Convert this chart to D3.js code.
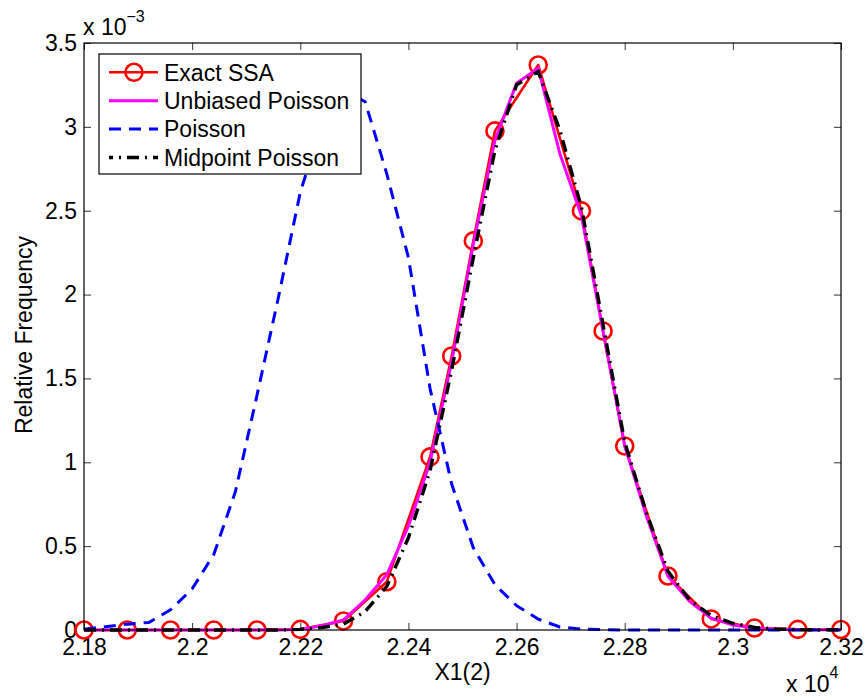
<!DOCTYPE html>
<html>
<head>
<meta charset="utf-8">
<script src="https://cdn.jsdelivr.net/npm/d3@7"></script>
<style>
  html, body { margin: 0; padding: 0; background: #fff; }
  svg { display: block; font-family: "Liberation Sans", Arial, Helvetica, sans-serif; }
</style>
</head>
<body>
<svg id="chart" width="868" height="700"></svg>
<script>
// Exact SSA histogram (marker positions), relative frequency in units of 1e-3
const ssaX = [21800, 21880, 21960, 22040, 22120, 22200, 22280, 22360, 22440, 22480, 22520,
              22560, 22640, 22720, 22760, 22800, 22880, 22960, 23040, 23120, 23200];
const ssaFreq = [0, 0, 0, 0, 0, 0.004, 0.054, 0.288, 1.032, 1.634, 2.32,
                 2.976, 3.369, 2.499, 1.783, 1.097, 0.322, 0.066, 0.012, 0.004, 0.003];

// Bin centres shared by the tau-leaping estimates
const binX = [21800, 21840, 21880, 21920, 21960, 22000, 22040, 22080, 22120, 22160,
              22200, 22240, 22280, 22320, 22360, 22400, 22440, 22480, 22520, 22560,
              22600, 22640, 22680, 22720, 22760, 22800, 22840, 22880, 22920, 22960,
              23000, 23040, 23080, 23120, 23160, 23200];
const unbiasedFreq = [0, 0, 0, 0, 0, 0, 0, 0, 0, 0,
                      0.004, 0.025, 0.06, 0.18, 0.33, 0.62, 1.0, 1.6, 2.3, 2.92,
                      3.26, 3.35, 2.84, 2.47, 1.78, 1.1, 0.68, 0.32, 0.17, 0.07,
                      0.03, 0.012, 0.005, 0.002, 0.001, 0.001];
const poissonFreq = [0.004, 0.02, 0.035, 0.045, 0.12, 0.245, 0.45, 0.825, 1.4, 1.99,
                     2.61, 3.02, 3.22, 3.15, 2.72, 2.22, 1.44, 0.87, 0.49, 0.27,
                     0.145, 0.065, 0.018, 0.006, 0.002, 0, 0, 0, 0, 0,
                     0, 0, 0, 0, 0, 0];
const midpointFreq = [0, 0, 0, 0, 0, 0, 0, 0, 0, 0,
                      0.004, 0.015, 0.035, 0.11, 0.26, 0.55, 0.95, 1.55, 2.22, 2.86,
                      3.25, 3.33, 2.98, 2.52, 1.82, 1.12, 0.7, 0.35, 0.18, 0.085,
                      0.04, 0.015, 0.006, 0.002, 0.001, 0.001];

// Axis ticks and labels
const xTicks = [21800, 22000, 22200, 22400, 22600, 22800, 23000, 23200];
const xTickLabels = ["2.18", "2.2", "2.22", "2.24", "2.26", "2.28", "2.3", "2.32"];
const yTicks = [0, 0.5, 1, 1.5, 2, 2.5, 3, 3.5];
const yTickLabels = ["0", "0.5", "1", "1.5", "2", "2.5", "3", "3.5"];

const seriesNames = ["Exact SSA", "Unbiased Poisson", "Poisson", "Midpoint Poisson"];

const svg = d3.select("#chart");
const plotLeft = 84, plotRight = 841, plotTop = 43, plotBottom = 630;
const fontSize = 23;

const x = d3.scaleLinear().domain([21800, 23200]).range([plotLeft, plotRight]);
const y = d3.scaleLinear().domain([0, 3.5]).range([plotBottom, plotTop]);

// Axes: inward ticks on all four sides
const tickLen = 7;
const gx = svg.append("g").attr("transform", `translate(0,${plotBottom})`)
  .call(d3.axisBottom(x).tickValues(xTicks).tickFormat((d, i) => xTickLabels[i])
    .tickSizeInner(-tickLen).tickSizeOuter(0).tickPadding(9));
const gy = svg.append("g").attr("transform", `translate(${plotLeft},0)`)
  .call(d3.axisLeft(y).tickValues(yTicks).tickFormat((d, i) => yTickLabels[i])
    .tickSizeInner(-tickLen).tickSizeOuter(0).tickPadding(7));
const gxt = svg.append("g").attr("transform", `translate(0,${plotTop})`)
  .call(d3.axisTop(x).tickValues(xTicks).tickFormat("").tickSizeInner(-tickLen).tickSizeOuter(0));
const gyr = svg.append("g").attr("transform", `translate(${plotRight},0)`)
  .call(d3.axisRight(y).tickValues(yTicks).tickFormat("").tickSizeInner(-tickLen).tickSizeOuter(0));

[gx, gy, gxt, gyr].forEach(g => {
  g.select(".domain").remove();
  g.selectAll(".tick line").attr("stroke", "#333").attr("stroke-width", 1);
  g.selectAll(".tick text").attr("fill", "#000")
    .style("font-size", fontSize + "px")
    .style("font-family", '"Liberation Sans", Arial, sans-serif');
});

// Series lines
const line = d3.line().x(d => x(d[0])).y(d => y(d[1]));
const zip = (xs, ys) => xs.map((v, i) => [v, ys[i]]);

const plot = svg.append("g");

plot.append("path").datum(zip(ssaX, ssaFreq)).attr("d", line)
  .attr("fill", "none").attr("stroke", "#ff0000").attr("stroke-width", 2.6)
  .attr("stroke-linejoin", "round");
plot.append("g").selectAll("circle").data(zip(ssaX, ssaFreq)).join("circle")
  .attr("cx", d => x(d[0])).attr("cy", d => y(d[1])).attr("r", 8.5)
  .attr("fill", "none").attr("stroke", "#ff0000").attr("stroke-width", 2.6);

plot.append("path").datum(zip(binX, unbiasedFreq)).attr("d", line)
  .attr("fill", "none").attr("stroke", "#ff00ff").attr("stroke-width", 3);

plot.append("path").datum(zip(binX, poissonFreq)).attr("d", line)
  .attr("fill", "none").attr("stroke", "#0000ff").attr("stroke-width", 3)
  .attr("stroke-dasharray", "12,8");

plot.append("path").datum(zip(binX, midpointFreq)).attr("d", line)
  .attr("fill", "none").attr("stroke", "#000000").attr("stroke-width", 3.4)
  .attr("stroke-dasharray", "12,6,2,6");

// Axes box
svg.append("rect").attr("x", plotLeft).attr("y", plotTop)
  .attr("width", plotRight - plotLeft).attr("height", plotBottom - plotTop)
  .attr("fill", "none").attr("stroke", "#000").attr("stroke-width", 1.2);

// Axis labels
svg.append("text").attr("x", (plotLeft + plotRight) / 2).attr("y", 680)
  .attr("text-anchor", "middle").style("font-size", fontSize + "px").text("X1(2)");
svg.append("text").attr("transform", "translate(32,335) rotate(-90)")
  .attr("text-anchor", "middle").style("font-size", fontSize + "px").text("Relative Frequency");

// Exponent multipliers
const topExp = svg.append("text").attr("x", 83).attr("y", 35).style("font-size", fontSize + "px");
topExp.append("tspan").text("x 10");
topExp.append("tspan").attr("dy", -13).style("font-size", "16px").text("\u22123");

const botExp = svg.append("text").attr("x", 786).attr("y", 692).style("font-size", fontSize + "px");
botExp.append("tspan").text("x 10");
botExp.append("tspan").attr("dy", -14).style("font-size", "16px").text("4");

// Legend
const legend = svg.append("g");
legend.append("rect").attr("x", 99).attr("y", 54).attr("width", 262).attr("height", 120)
  .attr("fill", "#fff").attr("stroke", "#000").attr("stroke-width", 1.2);
const rowY = [72.3, 100.7, 129.1, 157.5];
const legendStyles = [
  { color: "#ff0000", width: 2.6, dash: null, marker: true },
  { color: "#ff00ff", width: 3, dash: null, marker: false },
  { color: "#0000ff", width: 3, dash: "12,8", marker: false },
  { color: "#000000", width: 3.4, dash: "12,6,2,6", marker: false }
];
seriesNames.forEach((name, i) => {
  const s = legendStyles[i];
  const row = legend.append("g");
  const ln = row.append("line").attr("x1", 109).attr("x2", 158)
    .attr("y1", rowY[i]).attr("y2", rowY[i])
    .attr("stroke", s.color).attr("stroke-width", s.width);
  if (s.dash) ln.attr("stroke-dasharray", s.dash).attr("stroke-dashoffset", i === 3 ? 8 : 0);
  if (s.marker) row.append("circle").attr("cx", 134).attr("cy", rowY[i]).attr("r", 8.5)
    .attr("fill", "none").attr("stroke", s.color).attr("stroke-width", s.width);
  row.append("text").attr("x", 164).attr("y", rowY[i] + 8.2)
    .style("font-size", fontSize + "px").text(name);
});
</script>
</body>
</html>
